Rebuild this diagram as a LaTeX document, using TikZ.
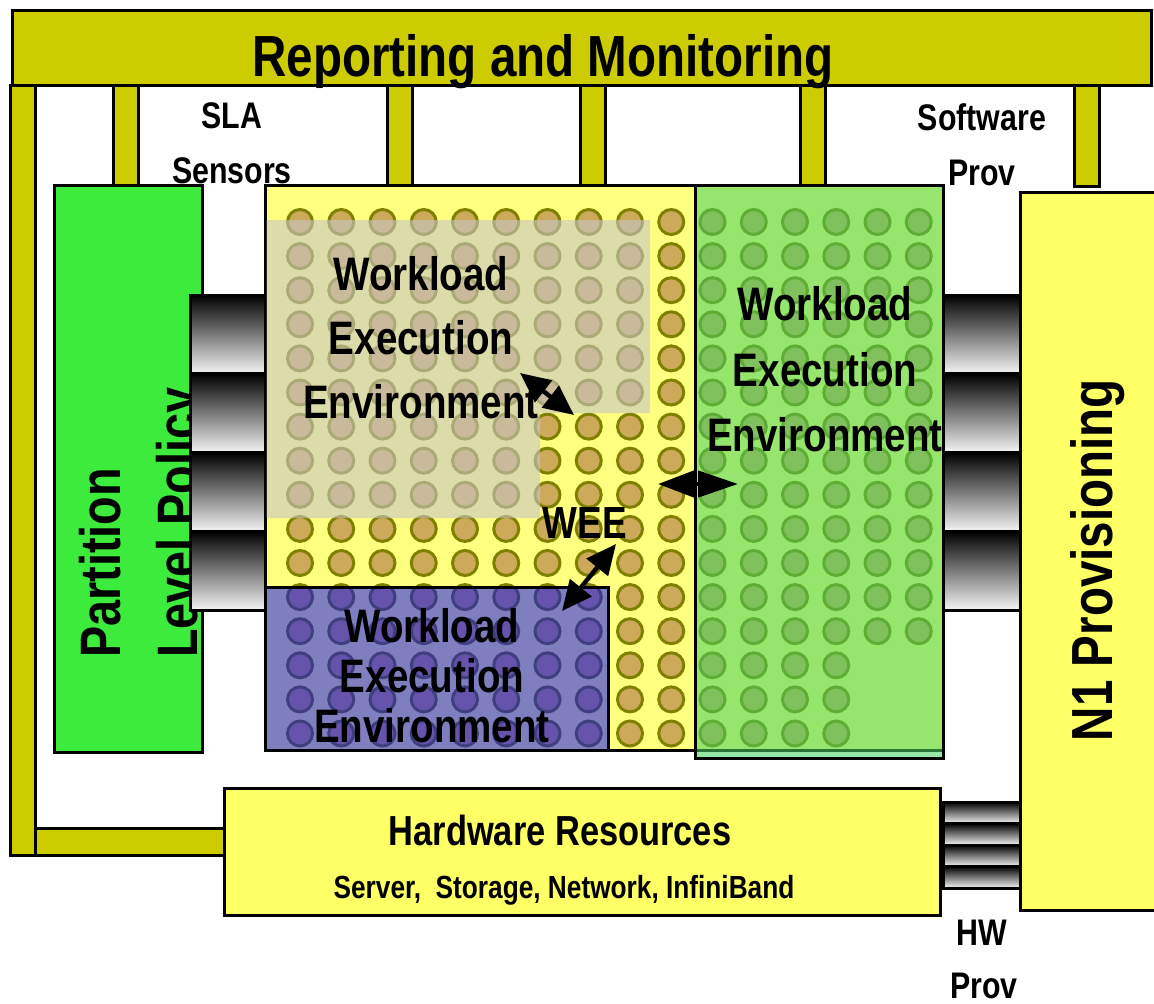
\documentclass[tikz,border=0pt]{standalone}
\usepackage{fontspec}
\setmainfont{Liberation Sans}[FakeStretch=0.82]
\usetikzlibrary{arrows.meta}
\definecolor{barcol}{RGB}{204,204,0}
\definecolor{plcgreen}{RGB}{61,235,61}
\definecolor{weeyellow}{RGB}{255,255,128}
\definecolor{boxyellow}{RGB}{255,255,102}
\definecolor{dotfill}{RGB}{205,170,90}
\definecolor{dotedge}{RGB}{128,128,0}
\definecolor{ovgray}{RGB}{198,198,198}
\definecolor{greenov}{RGB}{68,211,96}
\newcommand\myfs[1]{\fontsize{#1}{#1}\selectfont\bfseries}
\tikzset{
  frame/.style={draw=black, line width=3pt},
  bar/.style={frame, fill=barcol},
  plug/.style={draw=black, line width=3pt, top color=black, bottom color=gray!8},
  lbl/.style={inner sep=0pt, font=\myfs{37}, anchor=base},
  weetxt/.style={inner sep=0pt, font=\myfs{47}, anchor=base},
  bigtxt/.style={inner sep=0pt, font=\myfs{57}},
  dot/.style={draw=dotedge, fill=dotfill, line width=3pt},
  dbl/.style={line width=4.5pt, {Triangle[length=30pt,width=27pt]}-{Triangle[length=30pt,width=27pt]}},
}
\begin{document}
\begin{tikzpicture}[x=1pt,y=-1pt,line join=miter]
\useasboundingbox (0,0) rectangle (1154,1004);
\fill[white] (0,0) rectangle (1154,1004);
\clip (0,0) rectangle (1154,1004);

% monitoring frame
\draw[bar] (10,85) rectangle (35,855);
\draw[bar] (35,828) rectangle (224,855);
\foreach \a in {113,387,580,800,1074}
  \draw[bar] (\a,84) rectangle (\a+25,186);
\draw[bar] (12,10) rectangle (1151.5,85);
\node[bigtxt, font=\myfs{58}, anchor=base] (title) at (543,76) {Reporting and Monitoring};

% partition level policy
\draw[frame, fill=plcgreen] (54,185) rectangle (202,752);
\node[bigtxt, rotate=90, anchor=base west] (pl1) at (120,658) {Partition};
\node[bigtxt, rotate=90, anchor=base west] (pl2) at (197,658) {Level Policy};
\foreach \i in {0,...,3}
  \draw[plug] (190,295+78.75*\i) rectangle (265,295+78.75*\i+78.75);

% workload execution environments
\draw[frame, fill=weeyellow] (265,185) rectangle (943,750);
\foreach \j in {0,...,12}
  \foreach \k in {0,...,15}
    \draw[dot] (300+41.25*\k,222+34.1*\j) circle[radius=12.5];
\foreach \j in {13,14,15}
  \foreach \k in {0,...,13}
    \draw[dot] (300+41.25*\k,222+34.1*\j) circle[radius=12.5];
\fill[ovgray, opacity=0.6] (266.5,220) -- (650,220) -- (650,413) -- (540,413) -- (540,518) -- (266.5,518) -- cycle;
\fill[blue, opacity=0.5] (265,587) rectangle (608,750);
\draw[frame] (265,587) rectangle (608,750);
\fill[greenov, opacity=0.56] (695,185) rectangle (943,758);
\draw[frame] (695,185) rectangle (943,758);

\node[weetxt] (w1a) at (421,290) {Workload};
\node[weetxt] (w1b) at (421,354) {Execution};
\node[weetxt] (w1c) at (421,418) {Environment};
\node[weetxt] (w2a) at (825,320) {Workload};
\node[weetxt] (w2b) at (825,386) {Execution};
\node[weetxt] (w2c) at (825,451) {Environment};
\node[weetxt] (w3a) at (432,642) {Workload};
\node[weetxt] (w3b) at (432,692) {Execution};
\node[weetxt] (w3c) at (432,742) {Environment};
\node[weetxt, font=\myfs{45}] (wee) at (585,538) {WEE};

% N1 provisioning
\foreach \i in {0,...,3}
  \draw[plug] (943,295+78.75*\i) rectangle (1020,295+78.75*\i+78.75);
\draw[frame, fill=boxyellow] (1020,192) rectangle (1165,910);
\node[bigtxt, font=\myfs{58}, rotate=90, anchor=base] (n1) at (1112,560) {N1 Provisioning};

% hardware
\draw[frame, fill=boxyellow] (224,788) rectangle (940,915);
\node[inner sep=0pt, font=\myfs{42}, anchor=base] (hwt) at (560,845) {Hardware Resources};
\node[inner sep=0pt, font=\myfs{32}, anchor=base] (hws) at (564,898) {Server,\ \ Storage, Network, InfiniBand};
\foreach \i in {0,...,3}
  \draw[plug] (943,802+21.5*\i) rectangle (1020,802+21.5*\i+21.5);

% labels
\node[lbl] (sla) at (232,128) {SLA};
\node[lbl] (sens) at (232,183) {Sensors};
\node[lbl] (sw) at (982,130) {Software};
\node[lbl] (swp) at (982,185) {Prov};
\node[lbl] (hw) at (982,945) {HW};
\node[lbl] (hwp) at (984,998) {Prov};

% arrows
\coordinate (a1s) at (520,373);
\coordinate (a1e) at (574,415);
\coordinate (a2s) at (658,484);
\coordinate (a2e) at (738,484);
\coordinate (a3s) at (616,544);
\coordinate (a3e) at (562,611);
\draw[dbl] (a1s) -- (a1e);
\draw[line width=4.5pt, {Triangle[length=36pt,width=26pt]}-{Triangle[length=40pt,width=26pt]}] (a2s) -- (a2e);
\draw[dbl] (a3s) -- (a3e);
\end{tikzpicture}
\end{document}
